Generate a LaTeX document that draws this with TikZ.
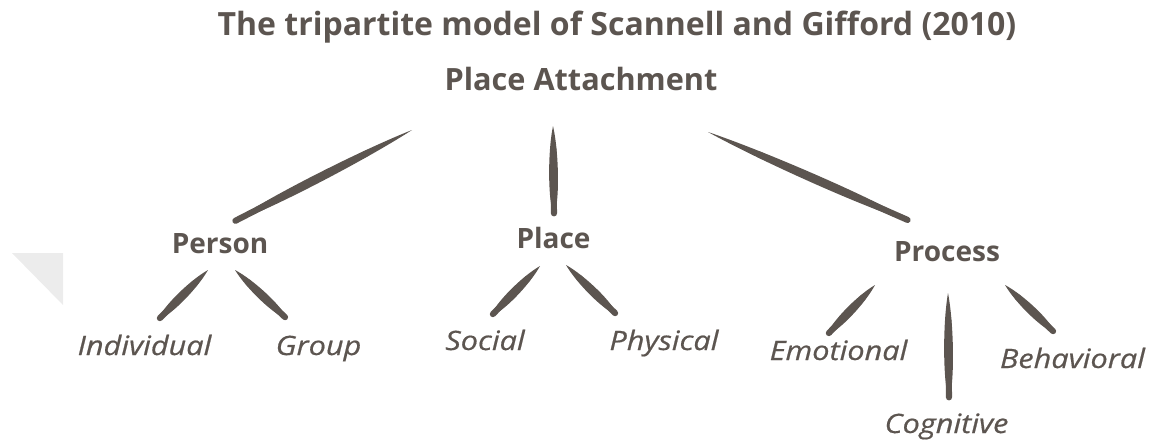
\documentclass[tikz,border=0pt]{standalone}
\usepackage{fontspec}
\setmainfont{Open Sans}
\newfontfamily\leaffont[FakeStretch=1.15,FakeBold=0.6]{Open Sans}
\usetikzlibrary{calc}

\definecolor{ink}{RGB}{92,85,80}
\definecolor{paletri}{RGB}{236,236,236}

% tapered brush stroke between two named coordinates
\newcommand{\brush}[2]{%
  \fill [ink] (#1) .. controls ($(#1)!.3!(#2)!4.4pt!90:(#2)$) and ($(#1)!.85!(#2)!4.4pt!90:(#2)$) .. (#2) .. controls ($(#1)!.85!(#2)!4.4pt!-90:(#2)$) and ($(#1)!.3!(#2)!4.4pt!-90:(#2)$) .. (#1) -- cycle ;
  \draw [ink, line width=4.6pt, line cap=round] ($(#1)!.25!(#2)$) -- ($(#2)!2pt!(#1)$) ;
}

\tikzset{
  head/.style={anchor=base, inner sep=0.75pt, text=ink, font=\bfseries\fontsize{21}{25}\selectfont},
  leaf/.style={anchor=base, inner sep=0.75pt, text=ink, font=\leaffont\itshape\fontsize{20}{24}\selectfont},
}

\begin{document}
\begin{tikzpicture}[x=0.75pt,y=0.75pt,yscale=-1,xscale=1]
        \path [use as bounding box] (0,0) rectangle (1153,444);

        %Shape: Triangle
        \fill [paletri] (12,253) -- (63,253) -- (63,305) -- cycle ;

        % Text Node
        \draw (617,35) node [anchor=base, inner sep=0.75pt, text=ink, font=\bfseries\fontsize{24}{28}\selectfont] (title) {The tripartite model of Scannell and Gifford (2010)};
        % Text Node
        \draw (581,90) node [anchor=base, inner sep=0.75pt, text=ink, font=\bfseries\fontsize{23}{27}\selectfont] (pa) {Place Attachment};

        % Text Node
        \draw (220,253) node [head] (person) {Person};
        % Text Node
        \draw (553.5,248) node [head] (place) {Place};
        % Text Node
        \draw (947,261) node [head] (process) {Process};

        % Text Node
        \draw (144.5,355) node [leaf] (indiv) {Individual};
        % Text Node
        \draw (318.5,355) node [leaf] (group) {Group};
        % Text Node
        \draw (485,350) node [leaf] (social) {Social};
        % Text Node
        \draw (664,350) node [leaf] (physical) {Physical};
        % Text Node
        \draw (838.5,360) node [leaf] (emot) {Emotional};
        % Text Node
        \draw (946.5,433) node [leaf] (cogn) {Cognitive};
        % Text Node
        \draw (1072.5,368) node [leaf] (behav) {Behavioral};

        % stroke ends
        \coordinate (pa-l) at ($(pa.base)+(-169,40)$);
        \coordinate (pa-m) at ($(pa.base)+(-28,36)$);
        \coordinate (pa-r) at ($(pa.base)+(127,42)$);
        \coordinate (person-t) at ($(person.base)+(13,-31)$);
        \coordinate (place-t) at ($(place.base)+(0.5,-32)$);
        \coordinate (process-t) at ($(process.base)+(-37,-40)$);
        \coordinate (person-l) at ($(person.base)+(-12,17)$);
        \coordinate (person-r) at ($(person.base)+(15,17)$);
        \coordinate (indiv-t) at ($(indiv.base)+(13.5,-35)$);
        \coordinate (group-t) at ($(group.base)+(-31.5,-36)$);
        \coordinate (place-l) at ($(place.base)+(-13.5,18)$);
        \coordinate (place-r) at ($(place.base)+(12.5,17)$);
        \coordinate (social-t) at ($(social.base)+(6,-34)$);
        \coordinate (physical-t) at ($(physical.base)+(-47,-35)$);
        \coordinate (process-l) at ($(process.base)+(-72,24)$);
        \coordinate (process-m) at ($(process.base)+(1,32)$);
        \coordinate (process-r) at ($(process.base)+(58,24)$);
        \coordinate (emot-t) at ($(emot.base)+(-11.5,-25)$);
        \coordinate (cogn-t) at ($(cogn.base)+(2.5,-33)$);
        \coordinate (behav-t) at ($(behav.base)+(-17.5,-35)$);

        %Brush Lines
        \brush{pa-l}{person-t}
        \brush{pa-m}{place-t}
        \brush{pa-r}{process-t}
        \brush{person-l}{indiv-t}
        \brush{person-r}{group-t}
        \brush{place-l}{social-t}
        \brush{place-r}{physical-t}
        \brush{process-l}{emot-t}
        \brush{process-m}{cogn-t}
        \brush{process-r}{behav-t}
\end{tikzpicture}
\end{document}
